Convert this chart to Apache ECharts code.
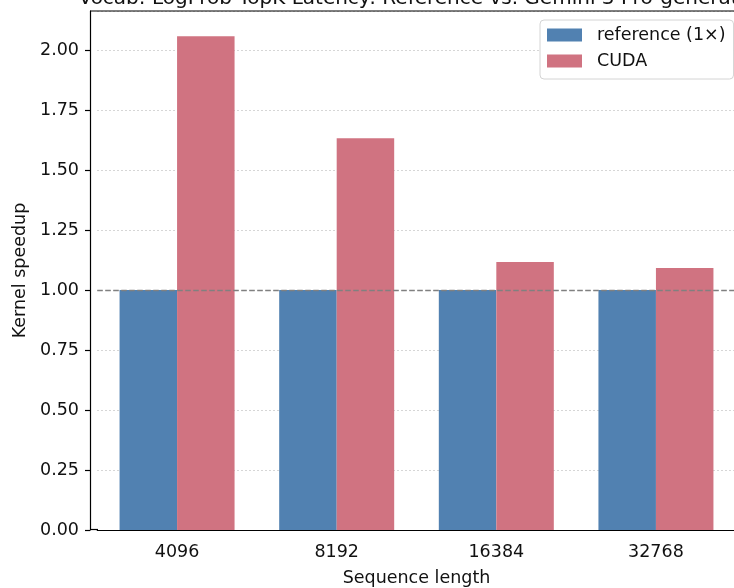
<!DOCTYPE html>
<html>
<head>
<meta charset="utf-8">
<script src="https://cdn.jsdelivr.net/npm/echarts@6/dist/echarts.min.js"></script>
<style>html,body{margin:0;padding:0;background:#fff;}#c{width:734px;height:588px;}</style>
</head>
<body>
<div id="c"></div>
<script>
const titleText = 'Vocab: LogProb TopK Latency: Reference vs. Gemini 3 Pro-generated';
const categories = ['4096', '8192', '16384', '32768'];
const referenceValues = [1.0, 1.0, 1.0, 1.0];
const cudaValues = [2.058, 1.633, 1.117, 1.092];
const yTicks = [0, 0.25, 0.5, 0.75, 1.0, 1.25, 1.5, 1.75, 2.0];
const seriesNames = ['reference (1×)', 'CUDA'];

const FONT = 'DejaVu Sans';
const TXT = '#111';
const chart = echarts.init(document.getElementById('c'), null, {renderer: 'canvas'});
chart.setOption({
  animation: false,
  backgroundColor: '#ffffff',
  title: {
    text: titleText,
    left: 416, textAlign: 'center',
    top: -16,
    textStyle: {fontFamily: FONT, fontSize: 20, fontWeight: 'normal', color: TXT}
  },
  legend: {
    data: seriesNames,
    orient: 'vertical',
    left: 540, top: 20,
    padding: [5, 8, 8, 7],
    itemWidth: 35, itemHeight: 13, itemGap: 6,
    icon: 'rect',
    backgroundColor: '#ffffff',
    borderColor: '#d4d4d4', borderWidth: 1, borderRadius: 4,
    textStyle: {fontFamily: FONT, fontSize: 17.5, color: TXT, lineHeight: 20, padding: [0, 0, 0, 10]}
  },
  grid: {left: 97.25, right: -1.75, top: 11, bottom: 58, containLabel: false, outerBoundsMode: 'none'},
  xAxis: {
    type: 'category',
    data: categories,
    name: 'Sequence length',
    nameLocation: 'middle',
    nameGap: 39,
    nameTextStyle: {fontFamily: FONT, fontSize: 17.5, color: TXT},
    axisLine: {lineStyle: {color: '#000', width: 1.2}},
    axisTick: {alignWithLabel: true, length: 5, lineStyle: {color: '#000', width: 1.2}},
    axisLabel: {fontFamily: FONT, fontSize: 17.5, color: TXT, margin: 13},
    splitLine: {show: false}
  },
  yAxis: {
    type: 'value',
    min: 0, max: 2.163, interval: 0.25,
    offset: 7.25,
    name: 'Kernel speedup',
    nameLocation: 'middle',
    nameGap: 60,
    nameTextStyle: {fontFamily: FONT, fontSize: 17.5, color: TXT},
    axisLine: {show: true, lineStyle: {color: '#000', width: 1.2}},
    axisTick: {show: true, length: 5, lineStyle: {color: '#000', width: 1.2}},
    axisLabel: {
      fontFamily: FONT, fontSize: 17.5, color: TXT, margin: 11,
      showMaxLabel: false,
      formatter: v => (yTicks.some(t => Math.abs(t - v) < 1e-6) ? v.toFixed(2) : '')
    },
    splitLine: {show: true, lineStyle: {color: '#c8c8c8', width: 1, type: [1.5, 2.5]}}
  },
  graphic: [
    {type: 'line', shape: {x1: 90, y1: 11, x2: 743, y2: 11}, style: {stroke: '#000', lineWidth: 1.2}, z: 100},
    {type: 'line', shape: {x1: 90, y1: 529.5, x2: 98, y2: 529.5}, style: {stroke: '#000', lineWidth: 1.2}, z: 100}
  ],
  series: [
    {
      name: seriesNames[0], type: 'bar', data: referenceValues,
      barWidth: 57.5, barGap: '0%',
      itemStyle: {color: '#5181b1'},
      markLine: {
        silent: true, symbol: 'none',
        label: {show: false},
        lineStyle: {color: '#808080', type: [5.5, 2.5], width: 1.4},
        data: [{yAxis: 1.0}]
      }
    },
    {
      name: seriesNames[1], type: 'bar', data: cudaValues,
      barWidth: 57.5, barGap: '0%',
      itemStyle: {color: '#d07381'}
    }
  ]
});
</script>
</body>
</html>
